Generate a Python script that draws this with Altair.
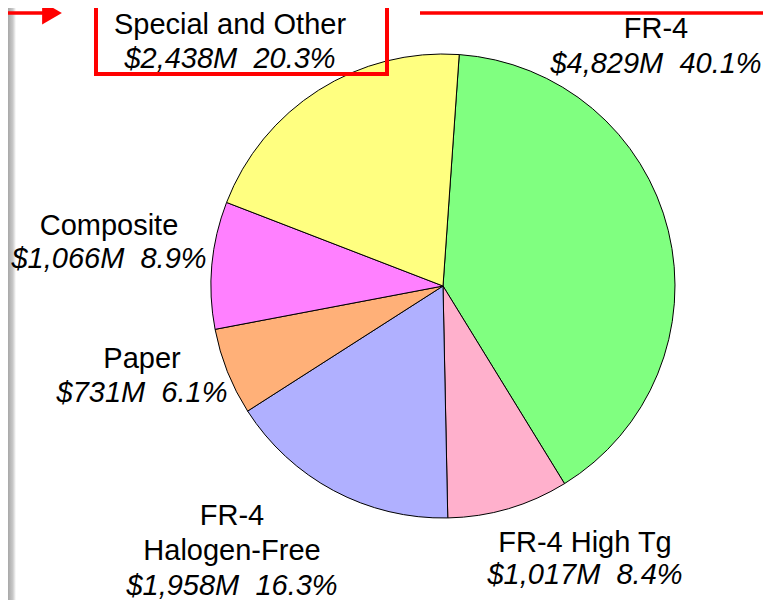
import altair as alt
import pandas as pd

# ---- data ----
segments = ["FR-4", "FR-4 High Tg", "FR-4 Halogen-Free", "Paper", "Composite", "Special and Other"]
values_musd = [4829, 1017, 1958, 731, 1066, 2438]
shares_pct = ["40.1%", "8.4%", "16.3%", "6.1%", "8.9%", "20.3%"]
name_lines = [["FR-4"], ["FR-4 High Tg"], ["FR-4", "Halogen-Free"], ["Paper"], ["Composite"], ["Special and Other"]]
colors = ["#80FF80", "#FFB0CC", "#B0B0FF", "#FFB078", "#FF80FF", "#FFFF80"]

# ---- layout (chart pixel coords, page minus 8px margin) ----
W, H = 755, 592
CX, CY, R = 435, 278, 232
START = 0.07  # radians, rotation of the first slice
# (x, first-line baseline y, line spacing) for each label block
label_layout = [(648, 30, 35), (577, 544, 32), (224, 517, 35), (134, 360, 34), (101, 227, 33), (222, 26, 34)]

pie_df = pd.DataFrame({
    "segment": segments,
    "value": values_musd,
    "idx": list(range(len(segments))),
})

rows = []
for i, seg in enumerate(segments):
    x, y0, dy = label_layout[i]
    lines = name_lines[i]
    for k, ln in enumerate(lines):
        rows.append({"text": ln, "x": x, "y": y0 + k * dy, "italic": False})
    rows.append({"text": f"${values_musd[i]:,}M\u00a0 {shares_pct[i]}", "x": x,
                 "y": y0 + len(lines) * dy, "italic": True})
lab_df = pd.DataFrame(rows)

pie = alt.Chart(pie_df).mark_arc(radius=R, stroke="black", strokeWidth=1).encode(
    theta=alt.Theta("value:Q", stack=True,
                    scale=alt.Scale(range=[START, START + 2 * 3.141592653589793])),
    order=alt.Order("idx:Q"),
    color=alt.Color("segment:N", scale=alt.Scale(domain=segments, range=colors), legend=None),
    x=alt.value(CX),
    y=alt.value(CY),
)

FS = 29
names = alt.Chart(lab_df).transform_filter("!datum.italic").mark_text(
    font="Liberation Sans", fontSize=FS, align="center", baseline="alphabetic", color="black"
).encode(
    x=alt.X("x:Q", scale=None), y=alt.Y("y:Q", scale=None), text="text:N"
)
vals = alt.Chart(lab_df).transform_filter("datum.italic").mark_text(
    font="Liberation Sans", fontSize=FS, fontStyle="italic", align="center",
    baseline="alphabetic", color="black"
).encode(
    x=alt.X("x:Q", scale=None), y=alt.Y("y:Q", scale=None), text="text:N"
)

base = alt.Chart(pd.DataFrame({"a": [0]}))

gray_bar = base.mark_rect(
    fill=alt.Gradient(gradient="linear", x1=0, x2=1, y1=0, y2=0,
                      stops=[alt.GradientStop(offset=0, color="#a8a8a8"),
                             alt.GradientStop(offset=0.6, color="#c8c8c8"),
                             alt.GradientStop(offset=1, color="#ffffff")])
).encode(x=alt.value(0), x2=alt.value(8), y=alt.value(0), y2=alt.value(H))

red = "#FF0000"
arrow_line = base.mark_rule(color=red, strokeWidth=3.5).encode(
    x=alt.value(0), x2=alt.value(40), y=alt.value(5))
arrow_head = base.mark_point(shape="triangle-right", filled=True, color=red, size=520, opacity=1).encode(
    x=alt.value(44), y=alt.value(5))
box_left = base.mark_rule(color=red, strokeWidth=4).encode(
    x=alt.value(88), y=alt.value(-5), y2=alt.value(68))
box_right = base.mark_rule(color=red, strokeWidth=4).encode(
    x=alt.value(379), y=alt.value(-5), y2=alt.value(68))
box_bottom = base.mark_rule(color=red, strokeWidth=4).encode(
    x=alt.value(86), x2=alt.value(381), y=alt.value(66))
top_line = base.mark_rule(color=red, strokeWidth=3.5).encode(
    x=alt.value(412), x2=alt.value(W), y=alt.value(5))

chart = alt.layer(
    gray_bar, pie, names, vals, arrow_line, arrow_head, box_left, box_right, box_bottom, top_line
).properties(
    width=W, height=H, autosize=alt.AutoSizeParams(type="none"), padding=0, background="white"
).configure_view(stroke=None)

chart.save("out.html", embed_options={"renderer": "svg", "actions": False})
